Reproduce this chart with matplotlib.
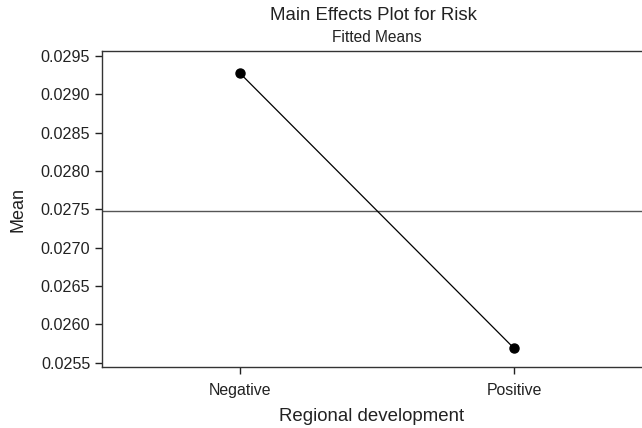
import matplotlib
matplotlib.use("Agg")
import matplotlib.pyplot as plt
import numpy as np

plt.rcParams['font.family'] = ['Liberation Sans', 'DejaVu Sans']

levels = ["Negative", "Positive"]
fitted_means = [0.029274, 0.025688]
overall_mean = 0.027477
yticks = [0.0255, 0.0260, 0.0265, 0.0270, 0.0275, 0.0280, 0.0285, 0.0290, 0.0295]

fig = plt.figure(figsize=(6.42, 4.28), dpi=100)
ax = fig.add_axes([0.1589, 0.1425, 0.8411, 0.7383])

x = np.arange(len(levels))
ax.plot(x, fitted_means, color='black', lw=0.9, marker='o', ms=6.5, zorder=3)
ax.axhline(overall_mean, color='#555555', lw=1.0, zorder=2)

ax.set_xlim(-0.504, 1.467)
ax.set_ylim(0.025444, 0.029565)
ax.set_xticks(x)
ax.set_xticklabels(levels)
ax.set_yticks(yticks)
ax.set_yticklabels([f"{v:.4f}" for v in yticks])

for side in ['left', 'bottom', 'top']:
    ax.spines[side].set_color('#333333')
    ax.spines[side].set_linewidth(1.0)
ax.spines['right'].set_visible(False)

ax.tick_params(axis='y', direction='out', length=5, width=1, labelsize=11.6, colors='#222222')
ax.tick_params(axis='x', direction='out', length=5, width=1, labelsize=11.4, pad=6.5, colors='#222222')

ax.set_ylabel("Mean", fontsize=13, color='#222222', labelpad=10)
ax.set_xlabel("Regional development", fontsize=13.4, color='#222222', labelpad=7)

fig.text(0.582, 0.963, "Main Effects Plot for Risk", ha='center', va='center', fontsize=13.4, color='#222222')
fig.text(0.587, 0.912, "Fitted Means", ha='center', va='center', fontsize=11.2, color='#222222')

fig.savefig("out.png", dpi=100)
